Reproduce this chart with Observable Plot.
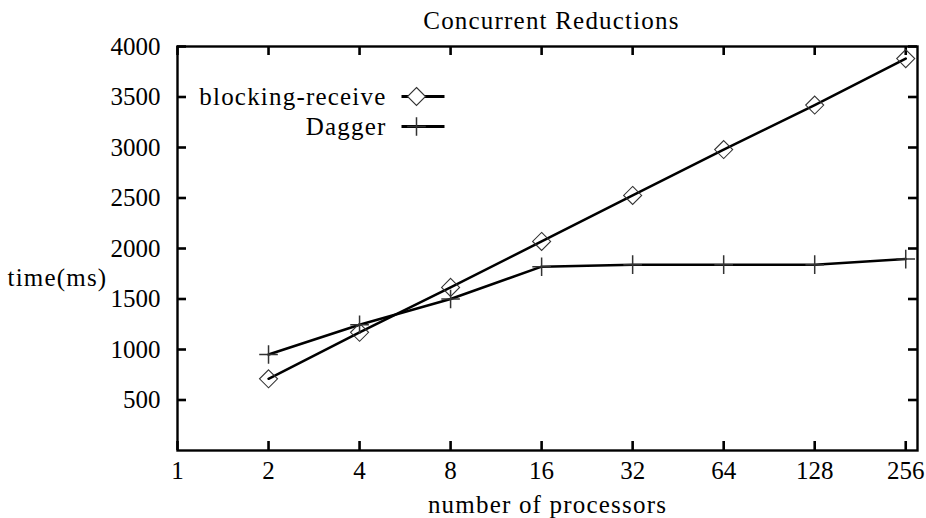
<!DOCTYPE html>
<html>
<head>
<meta charset="utf-8">
<script src="https://cdn.jsdelivr.net/npm/d3@7"></script>
<script src="https://cdn.jsdelivr.net/npm/@observablehq/plot@0.6"></script>
<style>
  html, body { margin: 0; padding: 0; background: #fff; }
</style>
</head>
<body>
<div id="chart"></div>
<script>
const titleText = "Concurrent Reductions";
const xLabelText = "number of processors";
const yLabelText = "time(ms)";
const processors = [2, 4, 8, 16, 32, 64, 128, 256];
const blockingReceive = [710, 1170, 1615, 2070, 2525, 2980, 3420, 3880];
const dagger = [950, 1245, 1500, 1820, 1840, 1840, 1840, 1895];
const seriesNames = ["blocking-receive", "Dagger"];
const xTicks = [1, 2, 4, 8, 16, 32, 64, 128, 256];
const yTicks = [500, 1000, 1500, 2000, 2500, 3000, 3500, 4000];

const rows = [];
processors.forEach((p, i) => {
  rows.push({series: seriesNames[0], p, t: blockingReceive[i]});
  rows.push({series: seriesNames[1], p, t: dagger[i]});
});
const rowsA = rows.filter(d => d.series === seriesNames[0]);
const rowsB = rows.filter(d => d.series === seriesNames[1]);

const rad = size => Math.sqrt(size / Math.PI);
const diamond = {draw(ctx, size) { const r = rad(size);
  ctx.moveTo(0, -r); ctx.lineTo(r, 0); ctx.lineTo(0, r); ctx.lineTo(-r, 0); ctx.closePath(); }};
const plus = {draw(ctx, size) { const r = rad(size);
  ctx.moveTo(-r, 0); ctx.lineTo(r, 0); ctx.moveTo(0, -r); ctx.lineTo(0, r); }};
const hline = {draw(ctx, size) { const r = rad(size);
  ctx.moveTo(-r, 0); ctx.lineTo(r, 0); }};

const W = 926, H = 518, ML = 177, MR = 9, MT = 46, MB = 68;
const PW = W - ML - MR, PH = H - MT - MB;
const X0 = 1, X1 = 280, Y0 = 0, Y1 = 4000;
const tick = 9;
const tickStyle = {stroke: "#000", strokeWidth: 2.6};

const chart = Plot.plot({
  width: W,
  height: H,
  marginLeft: ML,
  marginRight: MR,
  marginTop: MT,
  marginBottom: MB,
  style: {background: "#fff", color: "#000", fontFamily: "'Liberation Serif', serif", fontSize: "25px"},
  x: {type: "log", base: 2, domain: [X0, X1]},
  y: {domain: [Y0, Y1]},
  marks: [
    Plot.frame({stroke: "#000", strokeWidth: 2.4}),
    // inward ticks on all four sides (full-span rules shortened by insets)
    Plot.ruleX(xTicks, {x: d => d, insetTop: PH - tick, ...tickStyle}),
    Plot.ruleX(xTicks, {x: d => d, insetBottom: PH - tick, ...tickStyle}),
    Plot.ruleY(yTicks, {y: d => d, insetRight: PW - tick, ...tickStyle}),
    Plot.ruleY(yTicks, {y: d => d, insetLeft: PW - tick, ...tickStyle}),
    Plot.axisX({ticks: xTicks, tickSize: 0, tickPadding: 11, tickFormat: d => String(d), label: null}),
    Plot.axisY({ticks: yTicks, tickSize: 0, tickPadding: 17, tickFormat: d => String(d), label: null}),
    // data
    Plot.line(rowsA, {x: "p", y: "t", stroke: "#000", strokeWidth: 2.5}),
    Plot.line(rowsB, {x: "p", y: "t", stroke: "#000", strokeWidth: 2.5}),
    Plot.dot(rowsA, {x: "p", y: "t", symbol: diamond, r: 9, fill: "none", stroke: "#333", strokeWidth: 1.1}),
    Plot.dot(rowsB, {x: "p", y: "t", symbol: plus, r: 9.3, fill: "none", stroke: "#333", strokeWidth: 1.5}),
    // legend
    Plot.text([seriesNames[0]], {text: d => d, frameAnchor: "top-left", textAnchor: "end", lineAnchor: "middle", dx: 209, dy: 50}),
    Plot.text([seriesNames[1]], {text: d => d, frameAnchor: "top-left", textAnchor: "end", lineAnchor: "middle", dx: 209, dy: 80}),
    Plot.dot([seriesNames[0]], {x: null, y: null, frameAnchor: "top-left", dx: 245.5, dy: 50, symbol: hline, r: 21.5, stroke: "#000", strokeWidth: 2.8}),
    Plot.dot([seriesNames[1]], {x: null, y: null, frameAnchor: "top-left", dx: 245.5, dy: 80, symbol: hline, r: 21.5, stroke: "#000", strokeWidth: 2.8}),
    Plot.dot([seriesNames[0]], {x: null, y: null, frameAnchor: "top-left", dx: 239, dy: 50, symbol: diamond, r: 9, fill: "#fff", stroke: "#333", strokeWidth: 1.1}),
    Plot.dot([seriesNames[1]], {x: null, y: null, frameAnchor: "top-left", dx: 239, dy: 80, symbol: plus, r: 9.3, fill: "none", stroke: "#333", strokeWidth: 1.5}),
    // titles
    Plot.text([titleText], {text: d => d, frameAnchor: "top", textAnchor: "middle", lineAnchor: "bottom", dy: -18, dx: 4}),
    Plot.text([yLabelText], {text: d => d, frameAnchor: "left", textAnchor: "start", lineAnchor: "bottom", dx: -170, dy: 37}),
    Plot.text([xLabelText], {text: d => d, frameAnchor: "bottom", textAnchor: "middle", lineAnchor: "bottom", dy: 62})
  ]
});
d3.select(chart).selectAll("g[aria-label='text'] text").attr("letter-spacing", "1.2px");
document.getElementById("chart").appendChild(chart);
</script>
</body>
</html>
